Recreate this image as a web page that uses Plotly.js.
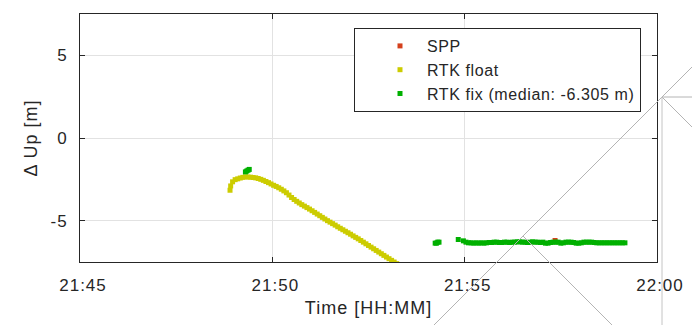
<!DOCTYPE html>
<html>
<head>
<meta charset="utf-8">
<script src="https://cdn.plot.ly/plotly-3.0.1.min.js"></script>
<style>
  html, body { margin: 0; padding: 0; background: #ffffff; }
  #chart { width: 692px; height: 325px; }
  .xtick text, .ytick text { letter-spacing: 1px; }
  .g-xtitle text, .g-ytitle text { letter-spacing: 1px; }
  .legendtext { letter-spacing: 0.6px; }
</style>
</head>
<body>
<div id="chart"></div>
<script>
// Session date used to build timestamps; only HH:MM is shown on the axis.
const day = '2024-01-01 ';

// SPP solutions
const sppTime = ['21:57:21'];
const sppUp = [-6.2];

// RTK float solutions
const floatTime = [
  '21:48:54', '21:48:55', '21:48:58', '21:49:02', '21:49:06', '21:49:10', '21:49:14', '21:49:18',
  '21:49:22', '21:49:26', '21:49:30', '21:49:34', '21:49:38', '21:49:42', '21:49:46', '21:49:50',
  '21:49:54', '21:49:58', '21:50:02', '21:50:06', '21:50:10', '21:50:14', '21:50:18', '21:50:22',
  '21:50:26', '21:50:30', '21:50:34', '21:50:38', '21:50:42', '21:50:46', '21:50:50', '21:50:54',
  '21:50:58', '21:51:02', '21:51:06', '21:51:10', '21:51:14', '21:51:18', '21:51:22', '21:51:26',
  '21:51:30', '21:51:34', '21:51:38', '21:51:42', '21:51:46', '21:51:50', '21:51:54', '21:51:58',
  '21:52:02', '21:52:06', '21:52:10', '21:52:14', '21:52:18', '21:52:22', '21:52:26', '21:52:30',
  '21:52:34', '21:52:38', '21:52:42', '21:52:46', '21:52:50', '21:52:54', '21:52:58', '21:53:02',
  '21:53:06', '21:53:10', '21:53:14'
];
const floatUp = [
  -3.16, -2.90, -2.65, -2.52, -2.47, -2.42, -2.38, -2.35,
  -2.36, -2.37, -2.39, -2.41, -2.45, -2.50, -2.56, -2.63,
  -2.70, -2.78, -2.86, -2.93, -3.01, -3.10, -3.20, -3.31,
  -3.45, -3.60, -3.72, -3.83, -3.93, -4.03, -4.12, -4.21,
  -4.30, -4.40, -4.50, -4.60, -4.70, -4.80, -4.90, -5.00,
  -5.09, -5.18, -5.27, -5.37, -5.46, -5.55, -5.64, -5.73,
  -5.82, -5.92, -6.01, -6.10, -6.20, -6.30, -6.40, -6.50,
  -6.60, -6.70, -6.80, -6.90, -7.00, -7.10, -7.20, -7.30,
  -7.40, -7.50, -7.60
];

// RTK fix solutions
const fixTime = [
  '21:49:18', '21:49:20', '21:49:22', '21:49:24',
  '21:54:14', '21:54:16', '21:54:18', '21:54:20',
  '21:54:50',
  '21:54:58', '21:55:02', '21:55:06', '21:55:10', '21:55:14', '21:55:18', '21:55:22', '21:55:26', '21:55:30', '21:55:34',
  '21:55:38', '21:55:42', '21:55:46', '21:55:50', '21:55:54', '21:55:58', '21:56:02', '21:56:06', '21:56:10', '21:56:14',
  '21:56:18', '21:56:22', '21:56:26', '21:56:30', '21:56:34', '21:56:38', '21:56:42', '21:56:46', '21:56:50', '21:56:54',
  '21:56:58', '21:57:02', '21:57:06', '21:57:10', '21:57:14', '21:57:18', '21:57:22', '21:57:26', '21:57:30', '21:57:34',
  '21:57:38', '21:57:42', '21:57:46', '21:57:50', '21:57:54', '21:57:58', '21:58:02', '21:58:06', '21:58:10', '21:58:14',
  '21:58:18', '21:58:22', '21:58:26', '21:58:30', '21:58:34', '21:58:38', '21:58:42', '21:58:46', '21:58:50', '21:58:54',
  '21:58:58', '21:59:02', '21:59:06', '21:59:10'
];
const fixUp = [
  -2.05, -2.00, -1.95, -1.90,
  -6.36, -6.36, -6.30, -6.30,
  -6.14,
  -6.22, -6.30, -6.34, -6.34, -6.36, -6.34, -6.36, -6.34, -6.36, -6.34,
  -6.32, -6.32, -6.30, -6.30, -6.32, -6.32, -6.30, -6.30, -6.32, -6.30,
  -6.30, -6.28, -6.28, -6.30, -6.30, -6.32, -6.30, -6.28, -6.30, -6.30,
  -6.32, -6.30, -6.36, -6.36, -6.32, -6.30, -6.30, -6.30, -6.36, -6.34,
  -6.30, -6.30, -6.30, -6.32, -6.36, -6.36, -6.34, -6.30, -6.30, -6.30,
  -6.30, -6.32, -6.34, -6.34, -6.34, -6.34, -6.34, -6.34, -6.34, -6.34,
  -6.34, -6.34, -6.34, -6.34
];
const fixMedian = '-6.305';

// Axis ticks
const yTickVals = [-5, 0, 5];
const yTickText = ['-5', '0', '5'];
const xStart = '21:45';
const xEnd = '22:00';

const stamp = arr => arr.map(t => day + t);
const ink = '#262626';
const font = 'Liberation Sans, Arial, Helvetica, sans-serif';

const traces = [
  {
    name: 'SPP', x: stamp(sppTime), y: sppUp, type: 'scatter', mode: 'markers',
    marker: { symbol: 'square', size: 5, color: '#d4401c' }
  },
  {
    name: 'RTK float', x: stamp(floatTime), y: floatUp, type: 'scatter', mode: 'markers',
    marker: { symbol: 'square', size: 5, color: '#cccc00' }
  },
  {
    name: 'RTK fix (median: ' + fixMedian + ' m)', x: stamp(fixTime), y: fixUp, type: 'scatter', mode: 'markers',
    marker: { symbol: 'square', size: 5, color: '#00b000' }
  }
];

// Thin grey guide strokes drawn across the right-hand part of the figure (paper units).
const M = { l: 80, r: 35, t: 14, b: 63 };
const W = 692, H = 325;
const pw = W - M.l - M.r, ph = H - M.t - M.b;
const px = v => (v - M.l) / pw;
const py = v => (H - M.b - v) / ph;
const guide = (x0, y0, x1, y1, c) => ({
  type: 'line', xref: 'paper', yref: 'paper', layer: 'above',
  x0: px(x0), y0: py(y0), x1: px(x1), y1: py(y1),
  line: { color: c || '#b4b4b4', width: 1 }
});

const layout = {
  width: W, height: H,
  margin: M,
  paper_bgcolor: '#ffffff',
  plot_bgcolor: '#ffffff',
  font: { family: font, color: ink },
  showlegend: true,
  legend: {
    x: px(354), y: py(28), xanchor: 'left', yanchor: 'top',
    bgcolor: '#ffffff', bordercolor: ink, borderwidth: 1,
    font: { family: font, size: 16, color: ink },
    indentation: 18, itemwidth: 44, tracegroupgap: 0
  },
  xaxis: {
    type: 'date',
    range: [day + xStart, day + xEnd],
    tick0: day + xStart, dtick: 5 * 60 * 1000,
    tickformat: '%H:%M',
    ticks: 'inside', ticklen: 5, tickcolor: ink, tickwidth: 1,
    showline: true, linecolor: ink, linewidth: 1, mirror: 'ticks',
    showgrid: true, gridcolor: '#e2e2e2', gridwidth: 1,
    zeroline: false,
    tickfont: { family: font, size: 17, color: ink },
    ticklabelshift: 3, ticklabelstandoff: 8,
    title: { text: 'Time [HH:MM]', font: { family: font, size: 18, color: ink }, standoff: 6 }
  },
  yaxis: {
    range: [-7.5, 7.5],
    tickvals: yTickVals, ticktext: yTickText,
    ticks: 'inside', ticklen: 5, tickcolor: ink, tickwidth: 1,
    showline: true, linecolor: ink, linewidth: 1, mirror: 'ticks',
    showgrid: true, gridcolor: '#e2e2e2', gridwidth: 1,
    zeroline: false,
    tickfont: { family: font, size: 17, color: ink },
    ticklabelstandoff: 8,
    title: { text: 'Δ Up [m]', font: { family: font, size: 18, color: ink }, standoff: 8 }
  },
  shapes: [
    guide(692, 67, 434, 325),
    guide(662, 97, 692, 127),
    guide(662, 97, 692, 97),
    guide(662, 97, 662, 325, '#c4c4c4'),
    guide(523, 236, 612, 325)
  ]
};

Plotly.newPlot('chart', traces, layout, { staticPlot: true, displayModeBar: false });
</script>
</body>
</html>
